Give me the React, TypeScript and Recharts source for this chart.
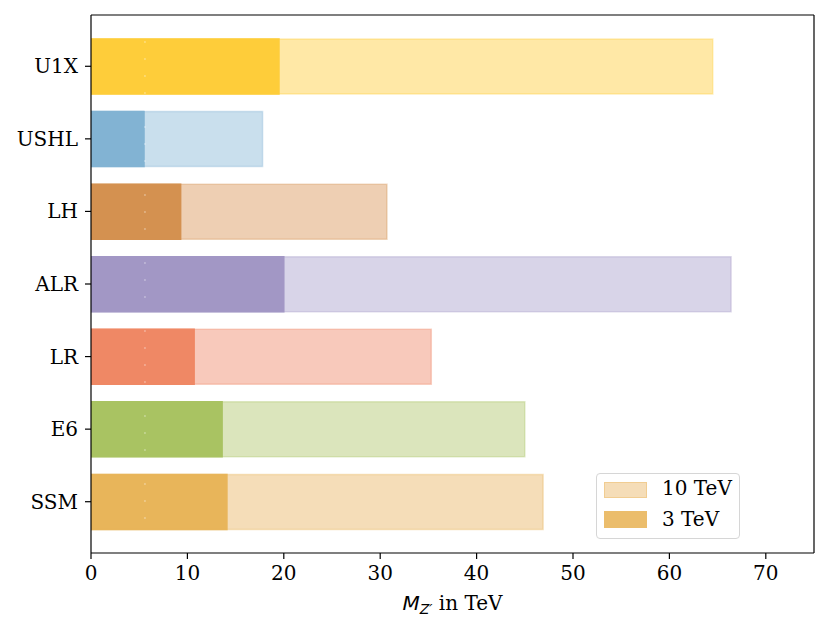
import { BarChart, Bar, XAxis, YAxis, Cell, Legend, ReferenceLine } from 'recharts';

const models = ['U1X', 'USHL', 'LH', 'ALR', 'LR', 'E6', 'SSM'];
const reach3TeV = [19.5, 5.5, 9.3, 20.0, 10.7, 13.6, 14.1];
const reach10TeV = [64.5, 17.8, 30.7, 66.4, 35.3, 45.0, 46.9];
const xTicks = [0, 10, 20, 30, 40, 50, 60, 70];

const darkColors = ['#fecd3a', '#82b3d3', '#d49150', '#a297c5', '#ef8865', '#a9c362', '#e8b55a'];
const lightColors = ['#ffe8a6', '#c9dfed', '#eecfb3', '#d8d4e8', '#f8c9bb', '#dbe5bc', '#f5ddb8'];

const data = models.map((name, i) => ({ name, tev3: reach3TeV[i], tev10: reach10TeV[i] }));

const SERIF = '"DejaVu Serif", serif';
const SANS = '"DejaVu Sans", sans-serif';
const FS = 20;

const XTick = ({ x, y, payload }: any) => (
  <text x={x} y={y + 15} textAnchor="middle" fontFamily={SERIF} fontSize={FS} fill="#000">
    {payload.value}
  </text>
);

const YTick = ({ x, y, payload }: any) => (
  <text x={x} y={y + 7} textAnchor="end" fontFamily={SERIF} fontSize={FS} fill="#000">
    {payload.value}
  </text>
);

const XLabel = ({ viewBox }: any) => {
  const cx = viewBox.x + viewBox.width / 2;
  return (
    <text x={cx} y={viewBox.y + 57} textAnchor="middle" fontSize={FS} fill="#000">
      <tspan fontFamily={SANS} fontStyle="italic">M</tspan>
      <tspan fontFamily={SANS} fontStyle="italic" fontSize={14} dy={4}>Z′</tspan>
      <tspan fontFamily={SERIF} dy={-4}> in TeV</tspan>
    </text>
  );
};

const LegendBox = () => (
  <div
    style={{
      width: 142,
      height: 64,
      border: '1px solid #d6d6d6',
      borderRadius: 4,
      background: 'rgba(255,255,255,0.8)',
      fontFamily: SERIF,
      fontSize: FS,
      position: 'relative',
      boxSizing: 'content-box',
    }}
  >
    <div style={{ position: 'absolute', left: 7, top: 8, width: 41, height: 14, background: '#f5ddb8', border: '1px solid #f1cd92' }} />
    <div style={{ position: 'absolute', left: 65, top: 3, lineHeight: '22px' }}>10 TeV</div>
    <div style={{ position: 'absolute', left: 7, top: 37, width: 43, height: 17, background: '#ebbd6c' }} />
    <div style={{ position: 'absolute', left: 65, top: 34, lineHeight: '22px' }}>3 TeV</div>
  </div>
);

export default function App() {
  return (
    <div style={{ position: 'absolute', left: 0, top: 0, background: '#fff' }}>
      <BarChart
        width={831}
        height={630}
        data={data}
        layout="vertical"
        margin={{ top: 14, right: 16, left: 0, bottom: 0 }}
      >
        <XAxis
          type="number"
          domain={[0, 75]}
          ticks={xTicks}
          allowDataOverflow
          height={77}
          tickSize={6}
          tickMargin={6}
          tick={<XTick />}
          axisLine={{ stroke: '#000', strokeWidth: 1.2 }}
          tickLine={{ stroke: '#000', strokeWidth: 1.2 }}
          label={<XLabel />}
        />
        <XAxis
          xAxisId="top"
          orientation="top"
          type="number"
          domain={[0, 75]}
          height={1}
          tick={false}
          tickLine={false}
          axisLine={{ stroke: '#000', strokeWidth: 1.2 }}
        />
        <YAxis
          yAxisId="a"
          type="category"
          dataKey="name"
          width={91}
          padding={{ top: 15, bottom: 15 }}
          tickSize={6}
          tickMargin={7}
          tick={<YTick />}
          axisLine={{ stroke: '#000', strokeWidth: 1.2 }}
          tickLine={{ stroke: '#000', strokeWidth: 1.2 }}
          interval={0}
        />
        <YAxis
          yAxisId="b"
          orientation="right"
          type="category"
          dataKey="name"
          width={1}
          padding={{ top: 15, bottom: 15 }}
          tick={false}
          tickLine={false}
          axisLine={{ stroke: '#000', strokeWidth: 1.2 }}
        />
        <Bar yAxisId="a" dataKey="tev10" barSize={55} isAnimationActive={false} strokeWidth={1.5}>
          {data.map((d, i) => (
            <Cell key={`l-${d.name}`} fill={lightColors[i]} stroke={darkColors[i]} strokeOpacity={0.35} />
          ))}
        </Bar>
        <Bar yAxisId="b" dataKey="tev3" barSize={55} isAnimationActive={false} strokeWidth={1.5}>
          {data.map((d, i) => (
            <Cell key={`d-${d.name}`} fill={darkColors[i]} stroke={darkColors[i]} />
          ))}
        </Bar>
        <ReferenceLine
          yAxisId="a"
          x={5.6}
          stroke="#fff"
          strokeOpacity={0.5}
          strokeDasharray="2 15"
        />
        <Legend
          layout="vertical"
          align="center"
          verticalAlign="middle"
          content={<LegendBox />}
          wrapperStyle={{ position: 'absolute', left: 596, top: 473, width: 144, height: 66 }}
        />
      </BarChart>
    </div>
  );
}
